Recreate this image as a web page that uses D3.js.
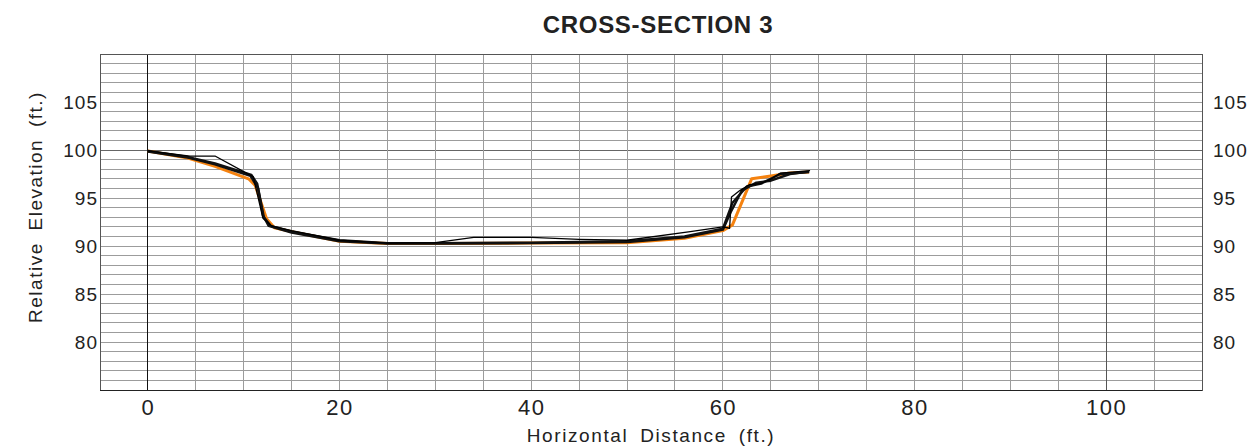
<!DOCTYPE html>
<meta charset="utf-8">
<style>
  body {
    margin: 0;
    background: #fff;
  }
  text {
    font-family: "Liberation Sans", Arial, sans-serif;
    fill: #222;
  }
</style>
<body>
  <script src="https://d3js.org/d3.v7.min.js"></script>
  <div id="chart"></div>
  <script>
    const width = 1257;
    const height = 448;
    const plot = {left: 100, right: 1202, top: 54, bottom: 390};

    const xTicks = [0, 20, 40, 60, 80, 100];
    const yTicks = [80, 85, 90, 95, 100, 105];

    // survey profiles, [distance ft, elevation ft]
    const surveyOrange = [[0, 99.9], [4, 99.2], [7, 98.3], [10.5, 97.0], [11.2, 96.3], [12.4, 92.8], [13.2, 91.9],
      [15, 91.5], [20, 90.5], [25, 90.25], [30, 90.25], [40, 90.3], [50, 90.35], [56, 90.8], [60, 91.6],
      [61, 92.2], [63, 97.0], [65, 97.3], [67, 97.6], [69, 97.7]];
    const surveyBlackA = [[0, 99.9], [4, 99.3], [7, 98.6], [10.8, 97.4], [11.4, 96.5], [12.1, 93.0], [12.8, 92.1],
      [15, 91.5], [20, 90.6], [25, 90.3], [30, 90.3], [40, 90.35], [50, 90.5], [56, 91.0], [60, 91.8],
      [61, 94.5], [62.5, 96.2], [64, 96.5], [66, 97.5], [69, 97.7]];
    const surveyBlackB = [[0, 99.85], [4, 99.25], [7, 98.5], [10.7, 97.3], [11.5, 96.0], [12.0, 93.2], [12.6, 92.1],
      [15, 91.4], [20, 90.5], [25, 90.25], [30, 90.25], [40, 90.3], [50, 90.4], [56, 90.9], [60, 91.7],
      [60.8, 93.5], [62, 95.8], [63.5, 96.6], [65, 96.8], [67, 97.5], [69, 97.75]];
    const surveyThin = [[0, 99.9], [4.4, 99.37], [7.0, 99.37], [11.0, 97.2], [12.0, 92.9], [12.9, 92.1], [15, 91.6],
      [20, 90.6], [25, 90.3], [30, 90.35], [34, 90.9], [40, 90.9], [45, 90.7], [50, 90.6], [56.6, 91.5],
      [60, 92.0], [60.7, 91.85], [60.9, 95.1], [61.8, 95.8], [62.8, 96.4], [63.9, 96.5], [64.9, 96.9],
      [66, 97.6], [69.1, 97.85]];

    const svg = d3.select("#chart")
      .append("svg")
      .attr("width", width)
      .attr("height", height);

    const x = d3.scaleLinear().domain([-5, 110]).range([plot.left, plot.right]);
    const y = d3.scaleLinear().domain([75, 110]).range([plot.bottom, plot.top]);

    // grid
    const grid = svg.append("g").attr("shape-rendering", "crispEdges");
    grid.selectAll(".h")
      .data(d3.range(76, 110, 1))
      .join("line")
      .attr("x1", plot.left).attr("x2", plot.right)
      .attr("y1", d => y(d)).attr("y2", d => y(d))
      .attr("stroke", d => d === 100 ? "#666" : "#9c9c9c")
      .attr("stroke-width", 1);
    grid.selectAll(".v")
      .data(d3.range(0, 110, 5))
      .join("line")
      .attr("x1", d => x(d)).attr("x2", d => x(d))
      .attr("y1", plot.top).attr("y2", plot.bottom)
      .attr("stroke", d => d === 0 ? "#111" : d === 100 ? "#555" : "#9c9c9c")
      .attr("stroke-width", 1);

    // frame
    grid.append("rect")
      .attr("x", plot.left).attr("y", plot.top)
      .attr("width", plot.right - plot.left).attr("height", plot.bottom - plot.top)
      .attr("fill", "none").attr("stroke", "#555");
    grid.append("line")
      .attr("x1", plot.left).attr("x2", plot.right)
      .attr("y1", plot.bottom).attr("y2", plot.bottom)
      .attr("stroke", "#222");

    // profiles
    const line = d3.line().x(d => x(d[0])).y(d => y(d[1]));
    const series = [
      {data: surveyOrange, color: "#f5820f", w: 3},
      {data: surveyBlackB, color: "#111", w: 2.4},
      {data: surveyBlackA, color: "#111", w: 2.4},
      {data: surveyThin, color: "#000", w: 1.3}
    ];
    svg.append("g")
      .selectAll("path")
      .data(series)
      .join("path")
      .attr("d", d => line(d.data))
      .attr("fill", "none")
      .attr("stroke", d => d.color)
      .attr("stroke-width", d => d.w)
      .attr("stroke-linejoin", "round");

    // tick labels
    const xAxis = svg.append("g")
      .attr("transform", `translate(0,${plot.bottom})`)
      .call(d3.axisBottom(x).tickValues(xTicks).tickSize(0).tickPadding(9));
    xAxis.select(".domain").remove();
    xAxis.selectAll("text")
      .style("font-size", "22px")
      .style("letter-spacing", "1.5px")
      .attr("fill", "#222");

    const yLeft = svg.append("g")
      .attr("transform", `translate(${plot.left},0)`)
      .call(d3.axisLeft(y).tickValues(yTicks).tickSize(0).tickPadding(2));
    yLeft.select(".domain").remove();
    yLeft.selectAll("text")
      .style("font-size", "19px")
      .style("letter-spacing", "1px")
      .attr("fill", "#222");

    const yRight = svg.append("g")
      .attr("transform", `translate(${plot.right},0)`)
      .call(d3.axisRight(y).tickValues(yTicks).tickSize(0).tickPadding(11));
    yRight.select(".domain").remove();
    yRight.selectAll("text")
      .style("font-size", "19px")
      .style("letter-spacing", "1px")
      .attr("fill", "#222");

    // title and axis titles
    svg.append("text")
      .attr("x", 658).attr("y", 33)
      .attr("text-anchor", "middle")
      .style("font-size", "24px")
      .style("font-weight", "bold")
      .style("letter-spacing", "0.7px")
      .text("CROSS-SECTION 3");

    svg.append("text")
      .attr("x", 651).attr("y", 442)
      .attr("text-anchor", "middle")
      .style("font-size", "19px")
      .style("letter-spacing", "1.6px")
      .style("word-spacing", "5px")
      .text("Horizontal Distance (ft.)");

    svg.append("text")
      .attr("transform", "translate(42,207) rotate(-90)")
      .attr("text-anchor", "middle")
      .style("font-size", "19px")
      .style("letter-spacing", "1.5px")
      .style("word-spacing", "5px")
      .text("Relative Elevation (ft.)");
  </script>
</body>
